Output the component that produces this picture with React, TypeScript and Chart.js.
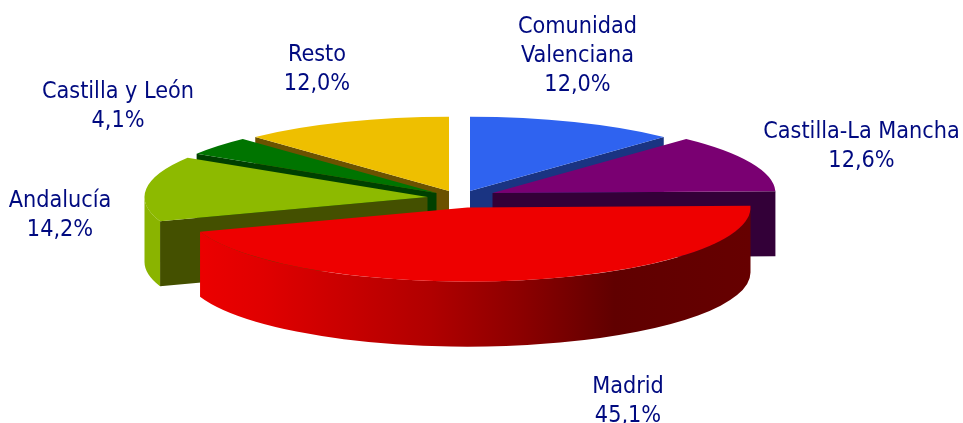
import React, { useEffect, useRef } from "react";
import { Chart, registerables } from "chart.js";

Chart.register(...registerables);

const categories = ["Comunidad Valenciana", "Castilla-La Mancha", "Madrid", "Andalucía", "Castilla y León", "Resto"];
const shares = [12.0, 12.6, 45.1, 14.2, 4.1, 12.0];

const topColors = ["#2f63f0", "#7a0072", "#ee0000", "#8dba00", "#007400", "#eebf00"];
const wallColors = ["#1a3482", "#330038", "#600000", "#445000", "#004000", "#6b5200"];
const rimColors = ["#2f63f0", "#7a0072", "", "#8ab400", "#007400", "#eebf00"];
const explodeX = [10.5, 33, 8, -32, -23, -10.5];
const explodeY = [-7, -5, 9.5, -0.9, -5, -7];
const paintOrder = [5, 0, 4, 3, 1, 2];
const labelLines = [
  ["Comunidad", "Valenciana"],
  ["Castilla-La Mancha"],
  ["Madrid"],
  ["Andalucía"],
  ["Castilla y León"],
  ["Resto"],
];
const labelPos = [
  [577.5, 27],
  [861.5, 132],
  [628, 387],
  [60, 201],
  [118, 92],
  [317, 55],
];

const RADIUS = 283;
const TILT = 0.262;
const DEPTH = 65;
const FONT = '23.2px "DejaVu Sans Condensed", "DejaVu Sans", sans-serif';
const LINE = 29;

const pie3d = {
  id: "pie3d",
  beforeDatasetsDraw(chart: any) {
    const ctx = chart.ctx;
    const arcs = chart.getDatasetMeta(0).data;
    for (const i of paintOrder) {
      const arc = arcs[i];
      const s = arc.startAngle;
      const e = arc.endAngle;
      const ax = arc.x + explodeX[i];
      const ay = arc.y + explodeY[i];
      const R = arc.outerRadius;

      const wall = (a: number) => {
        const ox = ax + R * Math.cos(a);
        const oy = ay + R * TILT * Math.sin(a);
        ctx.beginPath();
        ctx.moveTo(ax, ay);
        ctx.lineTo(ox, oy);
        ctx.lineTo(ox, oy + DEPTH);
        ctx.lineTo(ax, ay + DEPTH);
        ctx.closePath();
        ctx.fillStyle = wallColors[i];
        ctx.fill();
      };
      if (Math.cos(s) < -1e-6) wall(s);
      if (Math.cos(e) > 1e-6) wall(e);

      const r0 = Math.max(s, 0);
      const r1 = Math.min(e, Math.PI);
      if (r1 > r0) {
        ctx.beginPath();
        ctx.ellipse(ax, ay, R, R * TILT, 0, r0, r1, false);
        ctx.ellipse(ax, ay + DEPTH, R, R * TILT, 0, r1, r0, true);
        ctx.closePath();
        if (rimColors[i]) {
          ctx.fillStyle = rimColors[i];
        } else {
          const g = ctx.createLinearGradient(ax - R, 0, ax + R, 0);
          g.addColorStop(0, "#ee0000");
          g.addColorStop(0.14, "#e00000");
          g.addColorStop(0.336, "#c00000");
          g.addColorStop(0.435, "#b00000");
          g.addColorStop(0.594, "#8c0000");
          g.addColorStop(0.76, "#600000");
          g.addColorStop(1, "#660000");
          ctx.fillStyle = g;
        }
        ctx.fill();
      }

      ctx.save();
      ctx.translate(ax, ay);
      ctx.scale(1, TILT);
      ctx.translate(-arc.x, -arc.y);
      arc.draw(ctx);
      ctx.restore();
    }
    return false;
  },
  afterDraw(chart: any) {
    const ctx = chart.ctx;
    ctx.save();
    ctx.font = FONT;
    ctx.fillStyle = "#000a80";
    ctx.textAlign = "center";
    ctx.textBaseline = "middle";
    categories.forEach((_, i) => {
      const [x, y] = labelPos[i];
      const lines = [...labelLines[i], shares[i].toFixed(1).replace(".", ",") + "%"];
      lines.forEach((t, k) => ctx.fillText(t, x, y + k * LINE));
    });
    ctx.restore();
  },
};

export default function App() {
  const ref = useRef<HTMLCanvasElement>(null);
  useEffect(() => {
    document.body.style.margin = "0";
    const chart = new Chart(ref.current as HTMLCanvasElement, {
      type: "pie",
      data: {
        labels: categories,
        datasets: [{ data: shares, backgroundColor: topColors, borderWidth: 0 }],
      },
      options: {
        animation: false,
        responsive: false,
        radius: RADIUS,
        layout: { padding: { right: 44, bottom: 27 } },
        plugins: { legend: { display: false }, tooltip: { enabled: false } },
      } as any,
      plugins: [pie3d as any],
    });
    return () => chart.destroy();
  }, []);
  return <canvas ref={ref} width={963} height={423} style={{ display: "block" }} />;
}
